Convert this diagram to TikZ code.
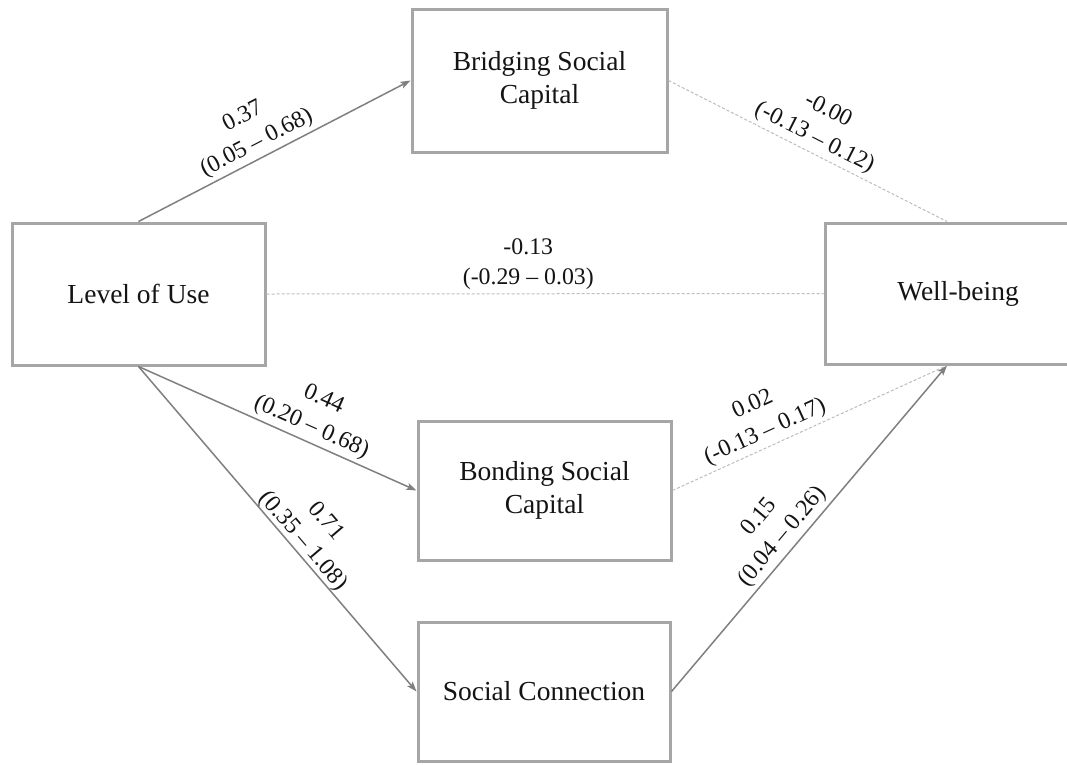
\documentclass[tikz,border=0pt]{standalone}
\usepackage{fontspec}
\setmainfont{Liberation Serif}
\usetikzlibrary{arrows.meta}
\definecolor{boxgray}{HTML}{A6A6A6}
\definecolor{linegray}{HTML}{808080}
\definecolor{dashgray}{HTML}{BDBDBD}
\definecolor{txt}{HTML}{141414}
\begin{document}
\begin{tikzpicture}[x=1pt,y=-1pt,
  box/.style={draw=boxgray, line width=3pt, fill=white, align=center, inner sep=0pt,
    font=\fontsize{27.5}{33}\selectfont, text=txt},
  solidarrow/.style={draw=linegray, line width=1.5pt, -{Stealth[length=10pt,width=7pt,inset=2pt]}},
  dashline/.style={draw=dashgray, line width=1pt, dash pattern=on 3pt off 2pt},
  coef/.style={font=\fontsize{23.8}{30}\selectfont, align=center, sloped, above, inner sep=3.5pt, text=txt}
]
\useasboundingbox (0,0) rectangle (1067,764);
\clip (0,0) rectangle (1067,764);
\fill[white] (0,0) rectangle (1067,764);

\node[box, minimum width=253pt, minimum height=142pt] (lou) at (138.5,294) {Level of Use};
\node[box, minimum width=255pt, minimum height=143pt] (bri) at (539.5,80.5) {Bridging Social\\Capital};
\node[box, minimum width=244pt, minimum height=141pt] (wb) at (947,293.5) {\hspace*{22pt}Well-being};
\node[box, minimum width=253pt, minimum height=139pt] (bon) at (544.5,490.5) {Bonding Social\\Capital};
\node[box, minimum width=252pt, minimum height=139pt] (soc) at (544,691.5) {Social Connection};

\draw[solidarrow] (lou.north) -- node[coef, pos=0.46] {0.37\\(0.05 -- 0.68)} (bri.west);
\draw[dashline] (bri.east) -- node[coef, pos=0.5] {-0.00\\(-0.13 -- 0.12)} (wb.north);
\draw[dashline] (lou.east) -- node[coef, pos=0.47] {-0.13\\(-0.29 -- 0.03)} (wb.west);
\draw[solidarrow] (lou.south) -- node[coef, pos=0.6] {0.44\\(0.20 -- 0.68)} (bon.west);
\draw[solidarrow] (lou.south) -- node[coef, pos=0.56, inner sep=0pt] {0.71\\(0.35 -- 1.08)} (soc.west);
\draw[dashline] (bon.east) -- node[coef, pos=0.36] {0.02\\(-0.13 -- 0.17)} (wb.south);
\draw[solidarrow] (soc.east) -- node[coef, pos=0.445] {0.15\\(0.04 -- 0.26)} (wb.south);
\end{tikzpicture}
\end{document}
